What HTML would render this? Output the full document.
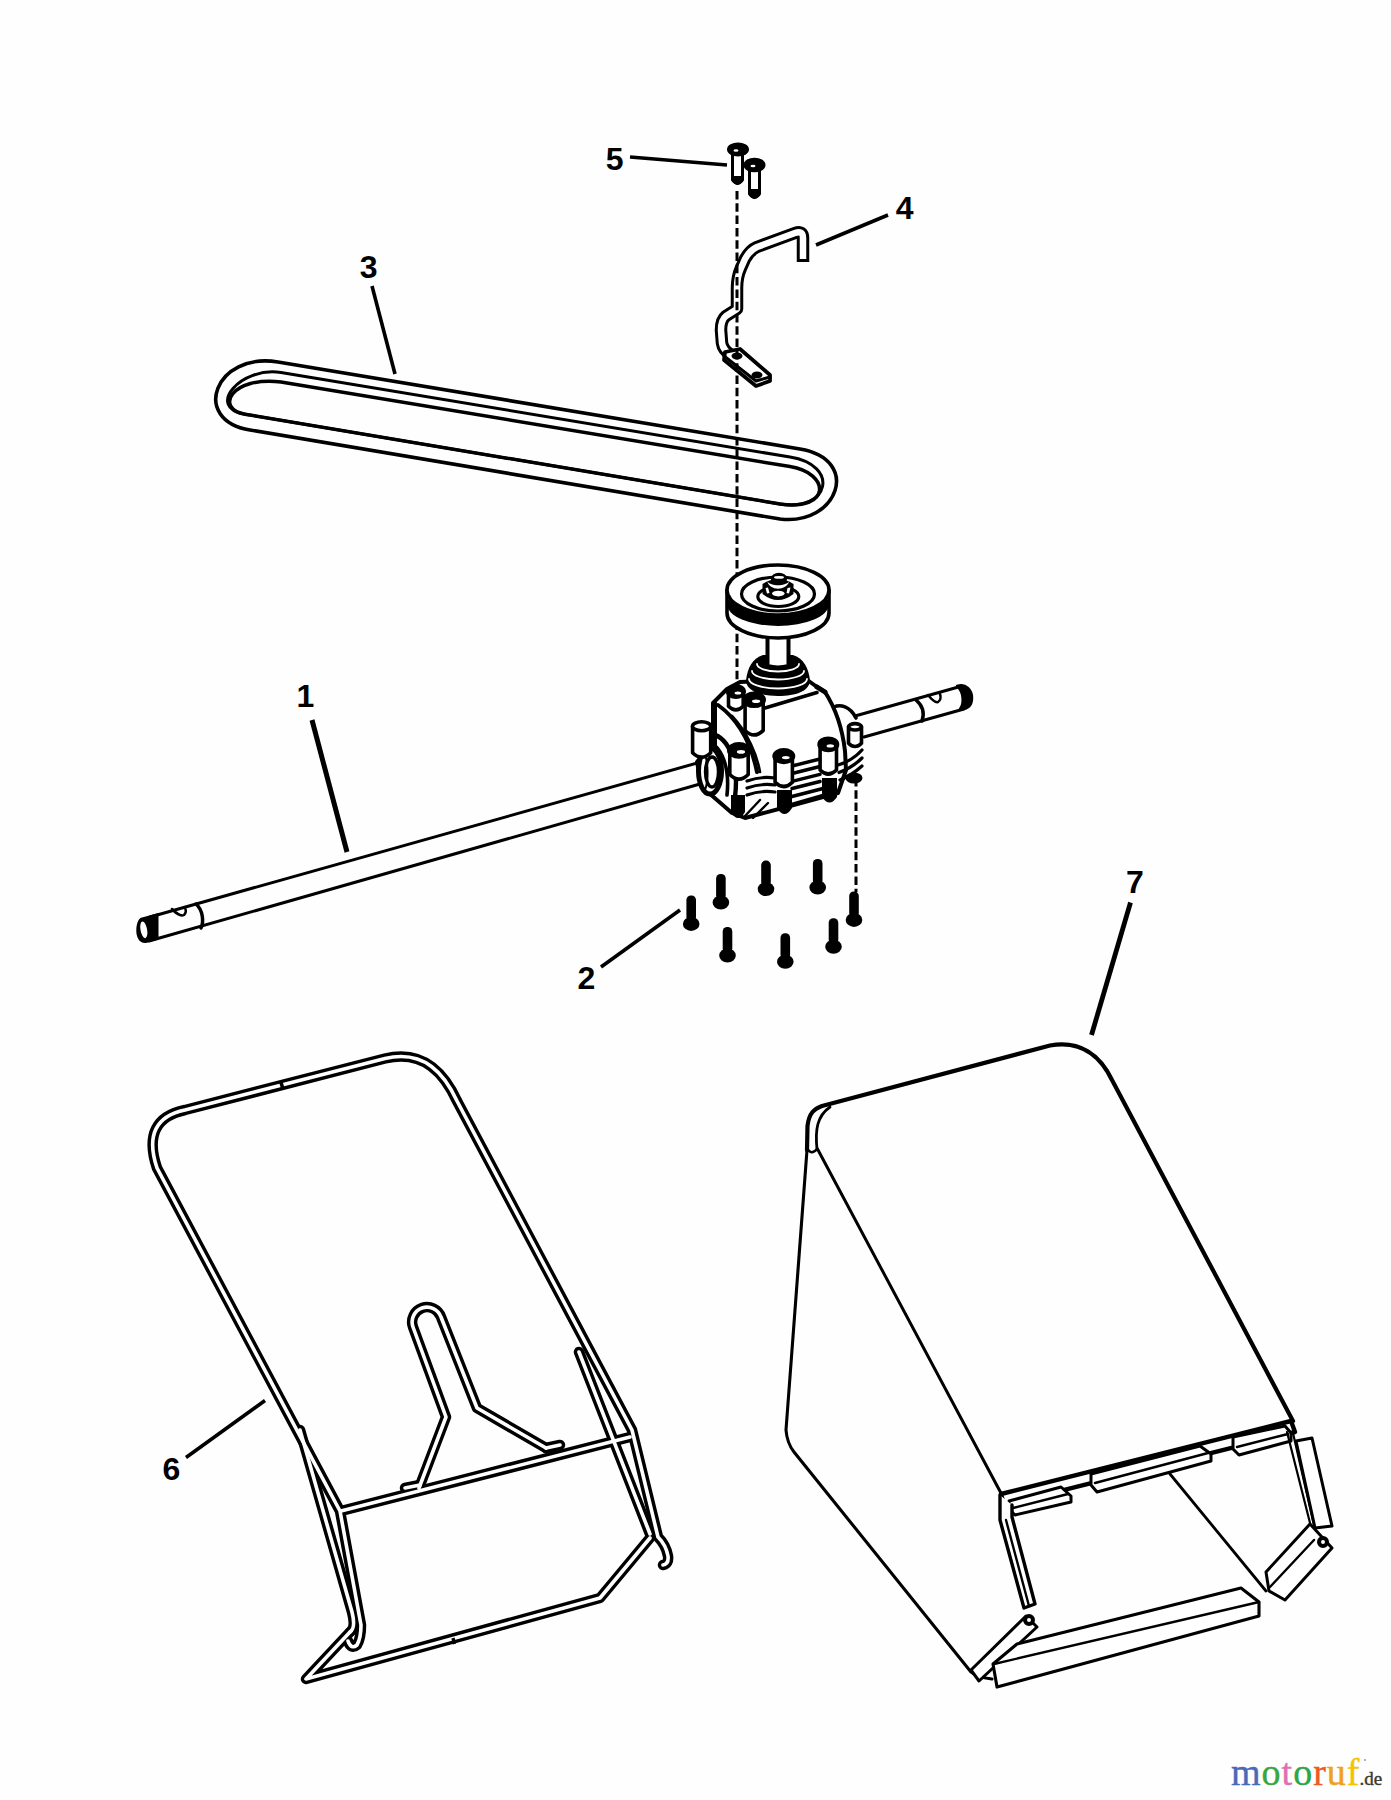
<!DOCTYPE html>
<html><head><meta charset="utf-8"><title>Parts diagram</title>
<style>
html,body{margin:0;padding:0;background:#fdfefd;}
body{width:1391px;height:1800px;overflow:hidden;position:relative;}
svg{position:absolute;left:0;top:0;display:block;}
.lbl{font-family:"Liberation Sans",sans-serif;font-weight:bold;font-size:32px;fill:#000;}
.logo{position:absolute;left:1231px;top:1752px;font-family:"Liberation Serif",serif;font-size:38px;line-height:40px;white-space:nowrap;letter-spacing:1px;-webkit-text-stroke:0.4px currentColor;}
</style></head>
<body>
<svg width="1391" height="1800" viewBox="0 0 1391 1800" fill="none" stroke="#000" stroke-linejoin="round" stroke-linecap="round">
<!-- BELT -->
<g id="belt" stroke-width="3">
<path d="M 278,362 L 800,449 C 862,459.5 838,526 780,519 L 250,430 C 190,420 215,351.5 278,362 Z" stroke-width="3.6"/>
<path d="M 281,372.6 L 790,457 C 840,465 830,512 780,504 L 245,414.2 C 205,407.5 241,366 281,372.6 Z" stroke-width="3"/>
<path d="M 281,382 L 790,466.6 C 830,473 832,511 780,504 L 245,414.2 C 215,409 230,376 281,382 Z" stroke-width="3.5"/>
</g>
<!-- SHAFT -->
<g id="shaft" stroke-width="3">
<path d="M 150,917 L 715,758"/>
<path d="M 149,941 L 700,784"/>
<path d="M 855,716 L 962,686"/>
<path d="M 864,737 L 964,709"/>
<path d="M 142,917.5 L 158.5,913 L 158.5,939.5 L 146,943 C 138.5,943.5 136,936 136.3,929.5 C 136.8,922 139,918 142,917.5 Z" fill="#000" stroke="none"/>
<ellipse cx="143.8" cy="929.8" rx="3.3" ry="8.5" fill="#fff" stroke="none" transform="rotate(-10 143.8 929.8)"/>
<path d="M 196,904 C 203,910 204,922 201,928" stroke-width="3.5"/>
<path d="M 172,909 C 176,913 180,917 184,915 C 186,913 186,910 185,908" stroke-width="2.5"/>
<path d="M 957,686 C 966,683 972,690 972,698 C 972,706 967,710 960,709 C 964,704 964,692 957,686 Z" fill="#000" stroke-width="2.5"/>
<path d="M 916,700 C 922,705 925,712 922,721" stroke-width="3.5"/>
<path d="M 928,695 C 932,700 935,703 938,702 C 941,700 941,697 940,694" stroke-width="2.5"/>
</g>
<!-- BOLTS 5 -->
<g id="bolts5" stroke-width="3">
<path d="M 732.5,153 L 732.5,180 Q 737.5,187 742.5,180 L 742.5,153" fill="#fff"/>
<path d="M 733,177 L 742,177 L 742,181 Q 737.5,187 733,181 Z" fill="#000" stroke-width="2"/>
<ellipse cx="738" cy="149.5" rx="9.5" ry="5.5" fill="#000"/>
<ellipse cx="736" cy="150.5" rx="2.5" ry="1.3" fill="#fff" stroke="none"/>
<path d="M 749.5,169 L 749.5,194 Q 754.5,201 759.5,194 L 759.5,169" fill="#fff"/>
<path d="M 750,190 L 759,190 L 759,195 Q 754.5,201 750,195 Z" fill="#000" stroke-width="2"/>
<ellipse cx="754.5" cy="165" rx="9.5" ry="5.8" fill="#000"/>
<ellipse cx="753" cy="166" rx="2.5" ry="1.3" fill="#fff" stroke="none"/>
</g>
<!-- BRACKET 4 -->
<g id="bracket4">
<path d="M 803,262 L 803,238 Q 803,230 795,233 L 757,247 Q 750,250 745,259 L 741,268 Q 737,277 737,288 L 737,309 L 726,316 Q 721,320 721,330 L 722,343 Q 723,350 731,355" stroke-width="12.5" stroke-linecap="butt"/>
<path d="M 803,259 L 803,238 Q 803,230 795,233 L 757,247 Q 750,250 745,259 L 741,268 Q 737,277 737,288 L 737,309 L 726,316 Q 721,320 721,330 L 722,343 Q 723,350 731,355" stroke="#fff" stroke-width="6.5" stroke-linecap="butt"/>
<path d="M 725,352 L 740,349 L 770,375 L 770,381 L 756,386 L 724,360 Z" fill="#fff" stroke-width="3.8"/>
<path d="M 724,356 L 756,381 L 770,377" stroke-width="3"/>
<ellipse cx="737" cy="356" rx="5.5" ry="3.5" fill="#000" stroke="none"/>
<ellipse cx="757" cy="375" rx="5.5" ry="3.5" fill="#000" stroke="none"/>
</g>
<!-- DASHED LINES -->
<g id="dashes" stroke-width="3" stroke-linecap="butt" stroke-dasharray="8.5 3.8">
<line x1="737" y1="191" x2="737" y2="688"/>
<line x1="856" y1="778" x2="856" y2="892"/>
</g>
<!-- BOLTS 2 -->
<g id="bolts2" fill="#000" stroke="none">
<g transform="translate(691.2,895.4)"><rect x="-4.8" y="0" width="9.6" height="26" rx="4.5"/><ellipse cx="0" cy="28.5" rx="8.3" ry="7"/></g>
<g transform="translate(720.9,874)"><rect x="-4.8" y="0" width="9.6" height="26" rx="4.5"/><ellipse cx="0" cy="28.5" rx="8.3" ry="7"/></g>
<g transform="translate(766,860.6)"><rect x="-4.8" y="0" width="9.6" height="26" rx="4.5"/><ellipse cx="0" cy="28.5" rx="8.3" ry="7"/></g>
<g transform="translate(817.7,859)"><rect x="-4.8" y="0" width="9.6" height="26" rx="4.5"/><ellipse cx="0" cy="28.5" rx="8.3" ry="7"/></g>
<g transform="translate(854,891.4)"><rect x="-4.8" y="0" width="9.6" height="26" rx="4.5"/><ellipse cx="0" cy="28.5" rx="8.3" ry="7"/></g>
<g transform="translate(727.5,927)"><rect x="-4.8" y="0" width="9.6" height="26" rx="4.5"/><ellipse cx="0" cy="28.5" rx="8.3" ry="7"/></g>
<g transform="translate(785.3,933.3)"><rect x="-4.8" y="0" width="9.6" height="26" rx="4.5"/><ellipse cx="0" cy="28.5" rx="8.3" ry="7"/></g>
<g transform="translate(833.5,918.3)"><rect x="-4.8" y="0" width="9.6" height="26" rx="4.5"/><ellipse cx="0" cy="28.5" rx="8.3" ry="7"/></g>
</g>
<!-- PULLEY + GEARBOX -->
<g id="gearbox" stroke-width="3.2">
<!-- body -->
<path d="M 713,703 L 727,689 L 740,682 L 806,679 L 817,687 L 825,692 C 834,706 842,725 845,751 L 846,770 L 838,793 L 823,797 L 790,806 L 745,818 L 732,813 L 702,787 L 697,762 L 713,742 Z" fill="#fff" stroke-width="4"/>
<path d="M 765,708 L 817,692.5" stroke-width="3.6"/>
<path d="M 715,703 L 715,758" stroke-width="4"/>
<path d="M 718,705 C 736,718 750,738 757,772" stroke-width="4"/>
<path d="M 732,716 C 748,733 757,755 760,772" stroke-width="2.6"/>
<path d="M 834,707 C 840,704 850,706 856,718" stroke-width="3.6"/>
<path d="M 817,687 L 825,692" stroke-width="5"/>
<!-- left bearing boss -->
<path d="M 712,734 C 730,738 739,765 735,797" stroke-width="4.4"/>
<path d="M 706,741 C 722,745 730,768 727,795" stroke-width="3.6"/>
<ellipse cx="710" cy="771" rx="11.5" ry="23" fill="#fff" stroke-width="5"/>
<ellipse cx="712" cy="772" rx="6.5" ry="15" fill="#fff" stroke-width="3.4"/>
<path d="M 704,752 C 708,760 709,780 705,790" stroke-width="2"/>
<!-- nut ends (behind band) -->
<path d="M 731,795 L 731,812 Q 738,824 745,812 L 745,795 Z" fill="#000" stroke="none"/>
<path d="M 777,790 L 777,808 Q 784.5,820 792,808 L 792,790 Z" fill="#000" stroke="none"/>
<path d="M 822,778 L 822,797 Q 829.5,808 837,797 L 837,778 Z" fill="#000" stroke="none"/>
<ellipse cx="854" cy="778" rx="8.5" ry="5.5" fill="#000" stroke="none"/>
<!-- band lines -->
<path d="M 792,766 L 820,759 M 792,773.5 L 820,766.5 M 792,781.3 L 820,774.3 M 792,788.5 L 820,781.5" stroke-width="3.4"/>
<path d="M 790,797 L 823,788.5" stroke-width="3.8"/>
<path d="M 790,805 L 823,795.5" stroke-width="3.4"/>
<path d="M 747,781 Q 761,776 775,778 M 747,788 Q 761,783 775,785 M 747,795 Q 761,790 775,792" stroke-width="3.2"/>
<path d="M 838,765 Q 852,761 862,750 M 839,772.5 Q 852,768 862,758 M 840,780 Q 852,775 862,766" stroke-width="3.2"/>
<path d="M 745,816 L 760,800 M 753,818 L 768,803" stroke-width="2.4"/>
<path d="M 728.5,690.5 L 728.5,706.2 Q 735.9,713.6 743.2,706.2 L 743.2,690.5" fill="#fff" stroke-width="3.6"/><ellipse cx="735.9" cy="691.5" rx="8.3" ry="5.7" fill="#000" stroke="#000" stroke-width="3.6"/><ellipse cx="737.9" cy="693.0" rx="3.3" ry="1.5" fill="#fff" stroke="none"/>
<path d="M 745.1,698.8 L 745.1,730.4 Q 754.1,739.4 763.2,730.4 L 763.2,698.8" fill="#fff" stroke-width="3.6"/><ellipse cx="754.1" cy="699.8" rx="10.1" ry="6.5" fill="#000" stroke="#000" stroke-width="3.6"/><ellipse cx="756.1" cy="701.3" rx="4.1" ry="1.8" fill="#fff" stroke="none"/>
<path d="M 692.6,726.3 L 692.6,752.7 Q 701.6,761.7 710.7,752.7 L 710.7,726.3" fill="#fff" stroke-width="3.6"/><ellipse cx="701.6" cy="726.3" rx="9.1" ry="4.5" fill="#fff" stroke-width="3.6"/>
<path d="M 848.5,726.8 L 848.5,743.2 Q 855.0,749.8 861.5,743.2 L 861.5,726.8" fill="#fff" stroke-width="3.6"/><ellipse cx="855.0" cy="726.8" rx="6.5" ry="3.2" fill="#fff" stroke-width="3.6"/>
<path d="M 729.8,749.4 L 729.8,774.6 Q 739.0,783.8 748.2,774.6 L 748.2,749.4" fill="#fff" stroke-width="3.6"/><ellipse cx="739.0" cy="750.4" rx="10.2" ry="6.6" fill="#000" stroke="#000" stroke-width="3.6"/><ellipse cx="741.0" cy="751.9" rx="4.1" ry="1.8" fill="#fff" stroke="none"/>
<path d="M 775.1,755.1 L 775.1,782.2 Q 783.8,790.8 792.4,782.2 L 792.4,755.1" fill="#fff" stroke-width="3.6"/><ellipse cx="783.8" cy="756.1" rx="9.7" ry="6.3" fill="#000" stroke="#000" stroke-width="3.6"/><ellipse cx="785.8" cy="757.6" rx="3.9" ry="1.7" fill="#fff" stroke="none"/>
<path d="M 820.1,743.4 L 820.1,769.9 Q 828.3,778.1 836.5,769.9 L 836.5,743.4" fill="#fff" stroke-width="3.6"/><ellipse cx="828.3" cy="744.4" rx="9.2" ry="6.1" fill="#000" stroke="#000" stroke-width="3.6"/><ellipse cx="830.3" cy="745.9" rx="3.7" ry="1.6" fill="#fff" stroke="none"/>
<!-- seal boss -->
<path d="M 763,655 L 793,655 C 803,658 809,668 810,681 C 809,691 796,696 778,696 C 760,696 747,691 746,681 C 747,668 753,658 763,655 Z" fill="#000" stroke="none"/>
<path d="M 757,664 A 21,7.5 0 0 0 799,664" stroke="#fff" stroke-width="1.8"/>
<path d="M 752,671 A 26,8.5 0 0 0 804,671" stroke="#fff" stroke-width="1.8"/>
<path d="M 749,679 A 29,9.5 0 0 0 807,679" stroke="#fff" stroke-width="1.8"/>
<!-- shaft -->
<path d="M 767.5,636 L 767.5,666 Q 778,669 788.5,666 L 788.5,636" fill="#fff" stroke-width="4"/>
<!-- pulley -->
<path d="M 727,590 L 727,613 A 51,25 0 0 0 829,613 L 829,590" fill="#fff" stroke-width="3.6"/>
<path d="M 727,600 L 727,604 A 51,22 0 0 0 829,604 L 829,600 Z" fill="#000" stroke="none"/>
<ellipse cx="778" cy="590" rx="51" ry="25" fill="#fff" stroke-width="3.6"/>
<ellipse cx="778" cy="594" rx="36.5" ry="17" stroke-width="3.2"/>
<ellipse cx="778.3" cy="596.6" rx="20.5" ry="9.9" stroke-width="3.2"/>
<path d="M 762.5,584 L 762.5,594 Q 778,606 793.5,594 L 793.5,584 Q 778,574 762.5,584 Z" fill="#000" stroke="none"/>
<path d="M 767.5,581.5 C 771,586.5 785,586.5 789,581.5 C 787,591 769,591 767.5,581.5 Z" fill="#fff" stroke="none"/>
<ellipse cx="778.3" cy="593.6" rx="6.3" ry="2.8" fill="#fff" stroke="none"/>
<path d="M 765.5,588 L 768,587.5 L 769.5,593 L 767,593.5 Z M 787.5,588 L 790.5,587.5 L 789,593.5 L 786.5,593 Z" fill="#fff" stroke="none"/>
<ellipse cx="779" cy="578.6" rx="8.2" ry="5.8" fill="#000" stroke="none"/>
<ellipse cx="779" cy="577.4" rx="5" ry="1.3" fill="#fff" stroke="none"/>
</g>
<!-- FRAME 6 -->
<g id="frame6">
<g stroke-width="10.5"><path d="M 348,1641 Q 351,1650 357,1645 Q 361,1638 361,1625 L 340,1511 L 157,1168 C 146,1135 156,1116 185,1110 L 385,1058.5 C 425,1049 445,1075 457,1101 L 632,1430 L 658,1537 Q 666,1545 668,1556 Q 669,1564 663,1565"/><path d="M 300,1430 L 352,1612 Q 356,1628 350,1632"/><path d="M 350,1632 L 306,1679 L 600,1598 L 650,1538"/><path d="M 579,1352 L 650,1534"/><path d="M 341,1511 L 630,1437"/><path d="M 419,1488 L 446,1417 L 413,1327 A 14.8,14.8 0 0 1 441,1317 L 477,1408 L 546,1448"/><path d="M 405,1488 L 420,1485"/><path d="M 546,1448 L 560,1445"/></g>
<g stroke="#fff" stroke-width="3.6"><path d="M 348,1641 Q 351,1650 357,1645 Q 361,1638 361,1625 L 340,1511 L 157,1168 C 146,1135 156,1116 185,1110 L 385,1058.5 C 425,1049 445,1075 457,1101 L 632,1430 L 658,1537 Q 666,1545 668,1556 Q 669,1564 663,1565"/><path d="M 300,1430 L 352,1612 Q 356,1628 350,1632"/><path d="M 350,1632 L 306,1679 L 600,1598 L 650,1538"/><path d="M 579,1352 L 650,1534"/><path d="M 341,1511 L 630,1437"/><path d="M 419,1488 L 446,1417 L 413,1327 A 14.8,14.8 0 0 1 441,1317 L 477,1408 L 546,1448"/><path d="M 405,1488 L 420,1485"/><path d="M 546,1448 L 560,1445"/></g>
<path d="M 281,1082.5 L 283,1089" stroke-width="3.6" stroke-linecap="butt"/>
<path d="M 453,1638 L 454.5,1644" stroke-width="3.4" stroke-linecap="butt"/>
</g>
<!-- BAG 7 -->
<g id="bag7" stroke-width="2.6">
<path d="M 807,1150 L 807.5,1126 C 809,1113 814,1109 822,1106 L 1050,1045.5 C 1080,1040 1100,1055 1112,1080 L 1293,1421" stroke-width="4.2"/>
<path d="M 817,1149 C 815,1130 817,1116 830,1107" stroke-width="2.8"/>
<path d="M 807,1148 Q 811,1156 817,1149" stroke-width="2.6"/>
<path d="M 817.5,1149 L 1002,1495" stroke-width="3"/>
<path d="M 807,1150 L 786,1430 Q 787,1443 794,1452 L 971,1672 Q 976,1677 992,1679" stroke-width="3.1"/>
<!-- top bar -->
<path d="M 1001,1494 L 1291,1421 L 1295,1432 L 1004,1505 Z" fill="#fff" stroke-width="4.4"/>
<path d="M 1009,1501 L 1061,1487 L 1071,1496 L 1071,1502 L 1015,1515 L 1009,1509 Z" fill="#fff" stroke-width="3"/>
<path d="M 1091,1474 L 1200,1446 L 1211,1454 L 1211,1461 L 1097,1492 L 1091,1485 Z" fill="#fff" stroke-width="3"/>
<path d="M 1233,1437 L 1285,1426 L 1291,1433 L 1291,1441 L 1239,1455 L 1233,1449 Z" fill="#fff" stroke-width="3"/>
<path d="M 1013,1508 L 1068,1494 M 1095,1483 L 1208,1453 M 1237,1447 L 1288,1434" stroke-width="2.4"/>
<!-- inner diagonal -->
<path d="M 1170,1474 L 1266,1591" stroke-width="2.8"/>
<!-- left arm -->
<path d="M 1000,1495 L 1000,1520 L 1024,1608 L 1035,1604 L 1012,1517 L 1012,1505" fill="#fff" stroke-width="3.4"/>
<path d="M 1006,1520 L 1029,1606" stroke-width="2.4"/>
<!-- left flap -->
<path d="M 971,1670 L 1026,1616 L 1037,1627 L 979,1681 Z" fill="#fff" stroke-width="3"/>
<circle cx="1029" cy="1620" r="4" fill="#fff" stroke-width="4"/>
<!-- bottom bar -->
<path d="M 1017,1644 L 1241,1588 L 1259,1602 L 1259,1616 L 997,1687 L 993,1664 Z" fill="#fff" stroke-width="3.1"/>
<path d="M 994,1664 L 1259,1602" stroke-width="2.4"/>
<!-- right arm -->
<path d="M 1296,1441 L 1312,1438 L 1332,1526 L 1315,1528 Z" fill="#fff" stroke-width="3"/>
<path d="M 1287,1432 L 1310,1523 M 1293,1433 L 1314,1525" stroke-width="2.2"/>
<!-- right flap -->
<path d="M 1266,1572 L 1310,1524 L 1332,1548 L 1285,1600 L 1269,1591 Z" fill="#fff" stroke-width="3"/>
<path d="M 1270,1587 L 1314,1540" stroke-width="2.4"/>
<circle cx="1323" cy="1542" r="4" fill="#fff" stroke-width="4"/>
</g>
<!-- LABELS -->
<g id="labels" stroke="none">
<text class="lbl" x="605.7" y="169.5">5</text>
<text class="lbl" x="895.7" y="219.3">4</text>
<text class="lbl" x="359.7" y="278.4">3</text>
<text class="lbl" x="296.6" y="706.5">1</text>
<text class="lbl" x="577.5" y="988.9">2</text>
<text class="lbl" x="1126.1" y="893.3">7</text>
<text class="lbl" x="162.4" y="1480.2">6</text>
</g>
<!-- LEADERS -->
<g id="leaders" stroke-width="3.6" stroke-linecap="butt">
<line x1="630" y1="157" x2="727" y2="165"/>
<line x1="816" y1="245" x2="888" y2="215"/>
<line x1="372" y1="286" x2="395" y2="374"/>
<line x1="312" y1="720" x2="347" y2="852" stroke-width="5"/>
<line x1="601" y1="967" x2="680" y2="910"/>
<line x1="1130.5" y1="902.5" x2="1091.5" y2="1035" stroke-width="4.8"/>
<line x1="186" y1="1457.5" x2="265" y2="1400.5"/>
</g>
</svg>
<div class="logo"><span style="color:#4a6ab8">m</span><span style="color:#3aa640">o</span><span style="color:#e070b0">t</span><span style="color:#2ea548">o</span><span style="color:#ec5a22">r</span><span style="color:#f0a020">u</span><span style="color:#f4c400">f</span><span style="color:#3a3a2a;font-size:19px;letter-spacing:0;margin-left:-1px">.de</span></div>
<div style="position:absolute;left:1364px;top:1759px;width:2px;height:2px;border-radius:1px;background:#999"></div>
</body></html>
